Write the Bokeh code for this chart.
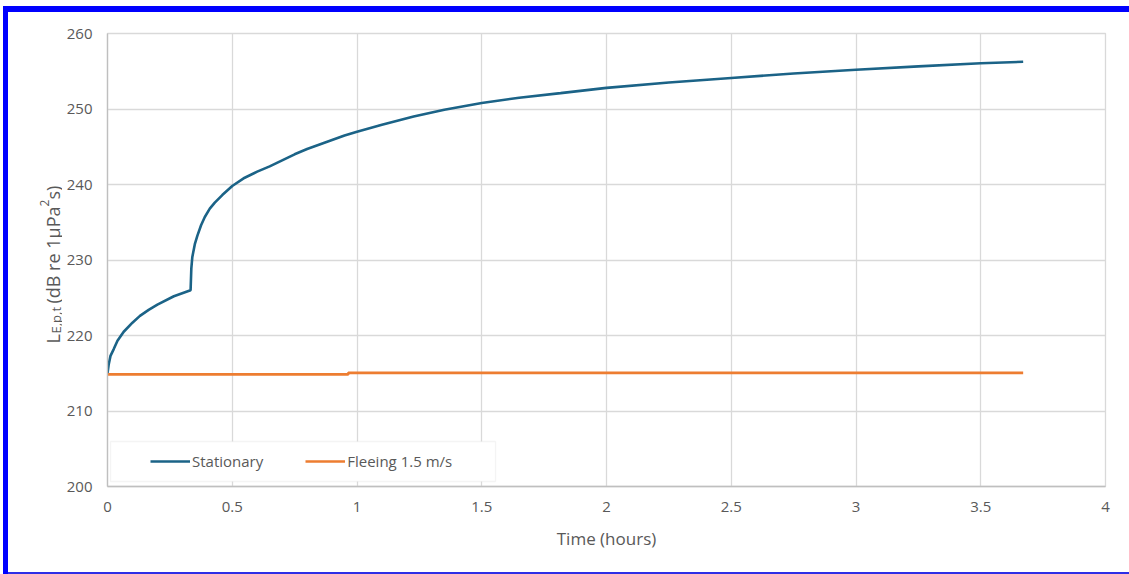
import math
from bokeh.plotting import figure
from bokeh.layouts import row
from bokeh.models import (FixedTicker, BoxAnnotation, Legend, LegendItem, Range1d)
from bokeh.core.properties import value
from bokeh.embed import file_html
from bokeh.resources import INLINE

# ---------------- data ----------------
time_stationary = [0.0, 0.005, 0.012, 0.025, 0.04, 0.065, 0.1, 0.13, 0.165, 0.2, 0.266, 0.333,
                   0.336, 0.34, 0.35, 0.36, 0.375, 0.39, 0.41, 0.43, 0.46, 0.5, 0.55, 0.6,
                   0.65, 0.7, 0.75, 0.8, 0.85, 0.9, 0.95, 1.0, 1.1, 1.227, 1.35, 1.5, 1.65, 1.816,
                   2.0, 2.25, 2.5, 2.75, 3.0, 3.25, 3.5, 3.67]
level_stationary = [215.0, 216.2, 217.3, 218.2, 219.3, 220.5, 221.7, 222.6, 223.4, 224.1, 225.2, 226.0,
                    228.9, 230.4, 232.1, 233.2, 234.6, 235.7, 236.8, 237.6, 238.6, 239.8, 240.9, 241.7,
                    242.4, 243.2, 244.0, 244.7, 245.3, 245.9, 246.5, 247.0, 247.9, 249.0, 249.9, 250.8,
                    251.5, 252.1, 252.8, 253.5, 254.1, 254.7, 255.2, 255.65, 256.05, 256.25]

time_fleeing = [0.0, 0.965, 0.965, 3.67]
level_fleeing = [214.85, 214.85, 215.05, 215.05]

series_names = ["Stationary", "Fleeing 1.5 m/s"]

x_ticks = [0, 0.5, 1, 1.5, 2, 2.5, 3, 3.5, 4]
x_tick_labels = ["0", "0.5", "1", "1.5", "2", "2.5", "3", "3.5", "4"]
y_ticks = [200, 210, 220, 230, 240, 250, 260]

x_title = "Time (hours)"
y_title_main = "L"
y_title_sub = "E,p,t"
y_title_mid = "(dB re 1μPa"
y_title_sup = "2"
y_title_end = "s)"

# ---------------- layout constants ----------------
FONT = "Open Sans"
GREY_TXT = "#595959"
GRID = "#D9D9D9"

W, H = 1129, 574
LW = 62                               # width of the left strip holding the y title
FL, FR, FT, FB = 107, 1105, 33, 486   # frame edges in page pixels

# ---------------- left strip: y-axis title ----------------
# (frames in a row are aligned vertically, so this strip's frame spans FT..FB)
left = figure(width=LW, height=H, output_backend="svg", toolbar_location=None,
              x_range=Range1d(0, LW), y_range=Range1d(H - FB, H - FT),
              x_axis_type=None, y_axis_type=None,
              min_border=0, min_border_left=0, min_border_right=0,
              min_border_top=0, min_border_bottom=0,
              outline_line_color=None, background_fill_color=None,
              border_fill_color=None)
left.grid.visible = False

ang = math.pi / 2
pieces = [
    (y_title_main, 18, 343, 52),
    (y_title_sub, 13, 333, 55),
    (y_title_mid, 18, 303, 52),
    (y_title_sup, 12, 206, 44),
    (y_title_end, 18, 199, 52),
]
for txt, fs, cy, cx in pieces:
    left.text(x=[cx], y=[H - cy], text=[txt], angle=ang,
              text_font=value(FONT), text_font_size=f"{fs}px",
              text_color=GREY_TXT, text_align="left", text_baseline="alphabetic")

# ---------------- main chart ----------------
p = figure(width=W - LW, height=H, output_backend="svg", toolbar_location=None,
           x_range=Range1d(0, 4), y_range=Range1d(200, 260),
           min_border_left=FL - LW, min_border_right=W - FR,
           min_border_top=FT, min_border_bottom=H - FB,
           background_fill_color="white", border_fill_color=None,
           outline_line_color=GRID, outline_line_width=1.3)

p.xaxis.ticker = FixedTicker(ticks=x_ticks)
p.yaxis.ticker = FixedTicker(ticks=y_ticks)
p.xaxis.major_label_overrides = {t: l for t, l in zip(x_ticks, x_tick_labels)}
for ax in (p.xaxis[0], p.yaxis[0]):
    ax.major_tick_out = 0
    ax.major_tick_in = 0
    ax.minor_tick_line_color = None
    ax.axis_line_color = "#BFBFBF"
    ax.axis_line_width = 1.3
    ax.major_label_text_font = FONT
    ax.major_label_text_font_size = "15px"
    ax.major_label_text_color = GREY_TXT
    ax.axis_label_text_font = FONT
    ax.axis_label_text_font_size = "17px"
    ax.axis_label_text_font_style = "normal"
    ax.axis_label_text_color = GREY_TXT

p.xaxis.major_label_standoff = 15
p.yaxis.major_label_standoff = 15
p.xaxis.axis_label = x_title
p.xaxis.axis_label_standoff = 12

p.xgrid.ticker = FixedTicker(ticks=x_ticks)
p.ygrid.ticker = FixedTicker(ticks=y_ticks)
p.grid.grid_line_color = GRID
p.grid.grid_line_width = 1.3

r1 = p.line(time_stationary, level_stationary, line_color="#1B6387", line_width=2.6)
r2 = p.line(time_fleeing, level_fleeing, line_color="#ED7D31", line_width=2.6)

def sx(cx):
    return cx - FL

def sy(cy):
    return FB - cy

p.add_layout(BoxAnnotation(left=sx(110), right=sx(495), top=sy(441), bottom=sy(481),
                           left_units="screen", right_units="screen",
                           top_units="screen", bottom_units="screen",
                           fill_color="white", fill_alpha=1.0,
                           line_color=GRID, line_width=1.3, level="overlay"))

legend = Legend(items=[LegendItem(label=series_names[0], renderers=[r1]),
                       LegendItem(label=series_names[1], renderers=[r2])],
                orientation="horizontal", location=(sx(150), sy(471)),
                padding=0, margin=0, spacing=42, label_standoff=2,
                glyph_width=40, glyph_height=20, label_height=20,
                border_line_color=None, background_fill_alpha=0.0,
                label_text_font=FONT, label_text_font_size="15px",
                label_text_color=GREY_TXT)
p.add_layout(legend)

# blue selection frame drawn as the page background behind transparent borders
bg = ("linear-gradient(#0000ff,#0000ff) 3px 6px / 1126px 6px no-repeat, "
      "linear-gradient(#0000ff,#0000ff) 3px 6px / 5px 568px no-repeat, "
      "linear-gradient(#2e2ee6,#2e2ee6) 3px 572px / 1126px 2px no-repeat, "
      "#ffffff")
layout = row(left, p, spacing=0, styles={"background": bg})

open("out.html", "w").write(file_html(layout, INLINE))
